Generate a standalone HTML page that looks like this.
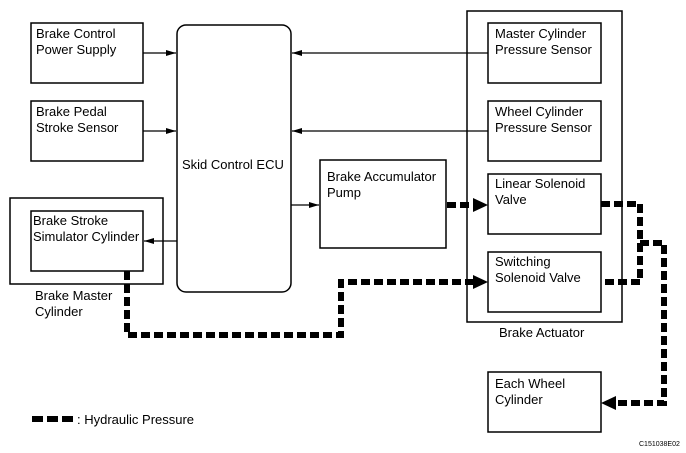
<!DOCTYPE html>
<html><head><style>html,body{margin:0;padding:0;background:#fff}svg{display:block}text{font-family:"Liberation Sans",sans-serif;font-size:13px;fill:#000}</style></head><body>
<svg width="686" height="453" viewBox="0 0 686 453" xmlns="http://www.w3.org/2000/svg">
<defs>
<marker id="a" markerWidth="10" markerHeight="6" refX="10" refY="3" orient="auto" markerUnits="userSpaceOnUse"><path d="M0,0 L10,3 L0,6z" fill="#000"/></marker>
</defs>
<g fill="none" stroke="#000" stroke-width="1.5">
<rect x="31" y="23" width="112" height="60"/>
<rect x="31" y="101" width="112" height="60"/>
<rect x="10" y="198" width="153" height="86"/>
<rect x="31" y="211" width="112" height="60"/>
<rect x="177" y="25" width="114" height="267" rx="9"/>
<rect x="320" y="160" width="126" height="88"/>
<rect x="467" y="11" width="155" height="311"/>
<rect x="488" y="23" width="113" height="60"/>
<rect x="488" y="101" width="113" height="60"/>
<rect x="488" y="174" width="113" height="60"/>
<rect x="488" y="252" width="113" height="60"/>
<rect x="488" y="372" width="113" height="60"/>
</g>
<g stroke="#000" stroke-width="1.2" fill="none">
<line x1="143" y1="53" x2="176" y2="53" marker-end="url(#a)"/>
<line x1="143" y1="131" x2="176" y2="131" marker-end="url(#a)"/>
<line x1="177" y1="241" x2="144" y2="241" marker-end="url(#a)"/>
<line x1="291" y1="205" x2="319" y2="205" marker-end="url(#a)"/>
<line x1="488" y1="53" x2="292" y2="53" marker-end="url(#a)"/>
<line x1="488" y1="131" x2="292" y2="131" marker-end="url(#a)"/>
</g>
<g stroke="#000" stroke-width="6" fill="none" stroke-dasharray="9,4">
<polyline points="447,205 474,205"/>
<polyline points="601,204 640,204 640,282 601,282"/>
<polyline points="640,243 664,243 664,403 614,403"/>
<polyline points="127,271 127,335 341,335 341,282 474,282"/>
</g>
<g fill="#000">
<path d="M473,198 L488,205 L473,212z"/>
<path d="M473,275 L488,282 L473,289z"/>
<path d="M616,396 L601,403 L616,410z"/>
<rect x="32" y="416" width="11" height="6"/>
<rect x="47" y="416" width="11" height="6"/>
<rect x="62" y="416" width="11" height="6"/>
</g>
<text x="36" y="38">Brake Control</text><text x="36" y="54">Power Supply</text>
<text x="36" y="116">Brake Pedal</text><text x="36" y="132">Stroke Sensor</text>
<text x="33" y="225">Brake Stroke</text><text x="33" y="241">Simulator Cylinder</text>
<text x="35" y="300">Brake Master</text><text x="35" y="316">Cylinder</text>
<text x="182" y="169">Skid Control ECU</text>
<text x="327" y="181">Brake Accumulator</text><text x="327" y="197">Pump</text>
<text x="495" y="38">Master Cylinder</text><text x="495" y="54">Pressure Sensor</text>
<text x="495" y="116">Wheel Cylinder</text><text x="495" y="132">Pressure Sensor</text>
<text x="495" y="188">Linear Solenoid</text><text x="495" y="204">Valve</text>
<text x="495" y="266">Switching</text><text x="495" y="282">Solenoid Valve</text>
<text x="499" y="337">Brake Actuator</text>
<text x="495" y="388">Each Wheel</text><text x="495" y="404">Cylinder</text>
<text x="77" y="424">: Hydraulic Pressure</text>
<text x="639" y="446" style="font-size:7px">C151038E02</text>
</svg>
</body></html>
